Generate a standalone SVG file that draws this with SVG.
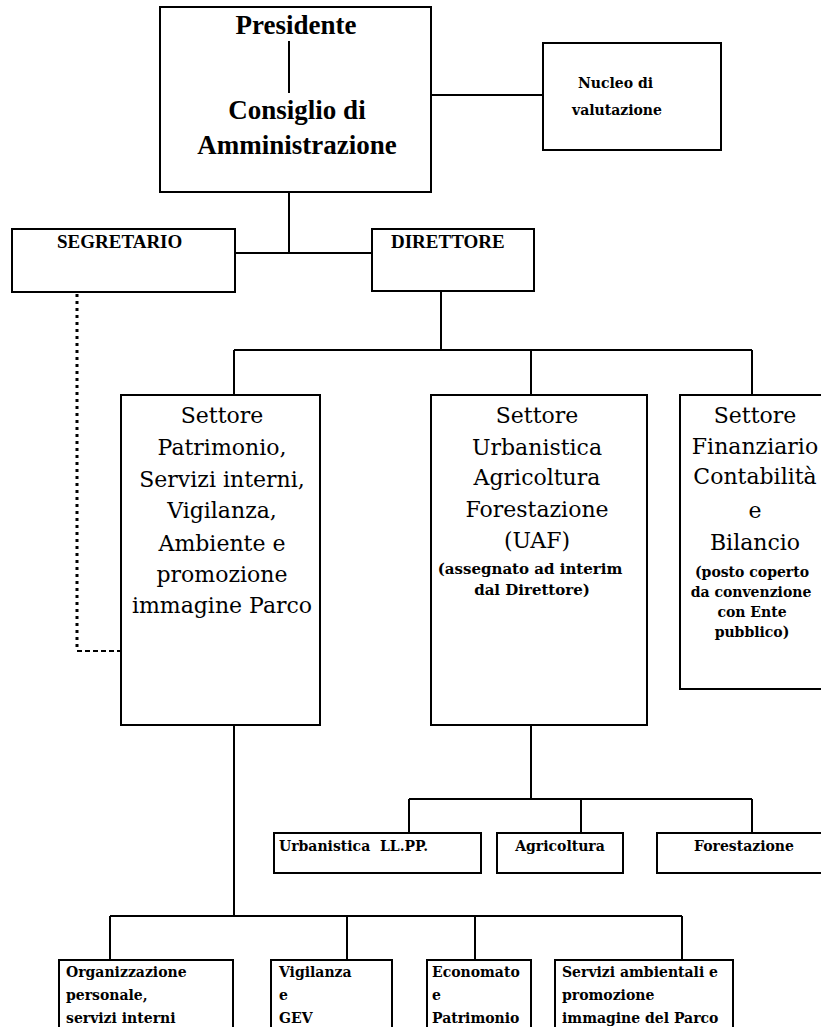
<svg xmlns="http://www.w3.org/2000/svg" width="821" height="1027" viewBox="0 0 821 1027">
<style>
.box{fill:#fff;stroke:#000;stroke-width:2}
.ln{fill:none;stroke:#000;stroke-width:2}
.big{font-family:"DejaVu Serif","Liberation Serif",serif;font-size:22px;fill:#000;text-anchor:middle}
.top{font-family:"Liberation Serif",serif;font-weight:bold;font-size:27px;fill:#000;text-anchor:middle}
.cap{font-family:"Liberation Serif",serif;font-weight:bold;font-size:19px;fill:#000}
.sm{font-family:"DejaVu Serif","Liberation Serif",serif;font-weight:bold;font-size:14px;fill:#000}
.smc{font-family:"DejaVu Serif","Liberation Serif",serif;font-weight:bold;font-size:14px;fill:#000;text-anchor:middle}
.smb{font-size:15px}
</style>
<rect width="821" height="1027" fill="#fff"/>
<g id="connectors">
  <line class="ln" x1="431" y1="95" x2="543" y2="95"/>
  <line class="ln" x1="289" y1="192" x2="289" y2="253"/>
  <line class="ln" x1="235" y1="253" x2="372" y2="253"/>
  <line fill="none" stroke="#000" stroke-width="3" stroke-dasharray="3 4" x1="77" y1="294" x2="77" y2="651"/>
  <line fill="none" stroke="#000" stroke-width="2" stroke-dasharray="5 3" x1="77" y1="651" x2="121" y2="651"/>
  <line class="ln" x1="441" y1="291" x2="441" y2="350"/>
  <line class="ln" x1="234" y1="350" x2="752" y2="350"/>
  <line class="ln" x1="234" y1="350" x2="234" y2="395"/>
  <line class="ln" x1="531" y1="350" x2="531" y2="395"/>
  <line class="ln" x1="752" y1="350" x2="752" y2="395"/>
  <line class="ln" x1="531" y1="725" x2="531" y2="799"/>
  <line class="ln" x1="409" y1="799" x2="752" y2="799"/>
  <line class="ln" x1="409" y1="799" x2="409" y2="833"/>
  <line class="ln" x1="581" y1="799" x2="581" y2="833"/>
  <line class="ln" x1="752" y1="799" x2="752" y2="833"/>
  <line class="ln" x1="234" y1="725" x2="234" y2="916"/>
  <line class="ln" x1="110" y1="916" x2="682" y2="916"/>
  <line class="ln" x1="110" y1="916" x2="110" y2="960"/>
  <line class="ln" x1="347" y1="916" x2="347" y2="960"/>
  <line class="ln" x1="475" y1="916" x2="475" y2="960"/>
  <line class="ln" x1="682" y1="916" x2="682" y2="960"/>
</g>
<g id="presidente">
  <rect class="box" x="160" y="7" width="271" height="185"/>
  <text class="top" x="296" y="34">Presidente</text>
  <line class="ln" x1="289" y1="41" x2="289" y2="93"/>
  <text class="top" x="297" y="119">Consiglio di</text>
  <text class="top" x="297" y="154">Amministrazione</text>
</g>
<g id="nucleo">
  <rect class="box" x="543" y="43" width="178" height="107"/>
  <text class="sm" x="578" y="88">Nucleo di</text>
  <text class="sm" x="572" y="115">valutazione</text>
</g>
<g id="segretario">
  <rect class="box" x="12" y="229" width="223" height="63"/>
  <text class="cap" x="57" y="248">SEGRETARIO</text>
</g>
<g id="direttore">
  <rect class="box" x="372" y="229" width="162" height="62"/>
  <text class="cap" x="391" y="248">DIRETTORE</text>
</g>
<g id="settore-patrimonio">
  <rect class="box" x="121" y="395" width="199" height="330"/>
  <text class="big" x="222" y="423">Settore</text>
  <text class="big" x="222" y="455">Patrimonio,</text>
  <text class="big" x="222" y="487">Servizi interni,</text>
  <text class="big" x="222" y="518">Vigilanza,</text>
  <text class="big" x="222" y="551">Ambiente e</text>
  <text class="big" x="222" y="582">promozione</text>
  <text class="big" x="222" y="613">immagine Parco</text>
</g>
<g id="settore-uaf">
  <rect class="box" x="431" y="395" width="216" height="330"/>
  <text class="big" x="537" y="423">Settore</text>
  <text class="big" x="537" y="455">Urbanistica</text>
  <text class="big" x="537" y="485">Agricoltura</text>
  <text class="big" x="537" y="517">Forestazione</text>
  <text class="big" x="537" y="548">(UAF)</text>
  <text class="smc smb" x="530" y="574">(assegnato ad interim</text>
  <text class="smc smb" x="532" y="595">dal Direttore)</text>
</g>
<g id="settore-finanziario">
  <rect class="box" x="680" y="395" width="160" height="294"/>
  <text class="big" x="755" y="423">Settore</text>
  <text class="big" x="755" y="454">Finanziario</text>
  <text class="big" x="755" y="484">Contabilità</text>
  <text class="big" x="755" y="518">e</text>
  <text class="big" x="755" y="550">Bilancio</text>
  <text class="smc" x="752" y="577">(posto coperto</text>
  <text class="smc" x="751" y="597">da convenzione</text>
  <text class="smc" x="752" y="617">con Ente</text>
  <text class="smc" x="752" y="637">pubblico)</text>
</g>
<g id="urbanistica">
  <rect class="box" x="274" y="833" width="207" height="40"/>
  <text class="sm" x="279" y="851" xml:space="preserve">Urbanistica  LL.PP.</text>
</g>
<g id="agricoltura">
  <rect class="box" x="497" y="833" width="126" height="40"/>
  <text class="smc" x="560" y="851">Agricoltura</text>
</g>
<g id="forestazione">
  <rect class="box" x="657" y="833" width="180" height="40"/>
  <text class="smc" x="744" y="851">Forestazione</text>
</g>
<g id="organizzazione">
  <rect class="box" x="59" y="960" width="174" height="90"/>
  <text class="sm" x="66" y="977">Organizzazione</text>
  <text class="sm" x="66" y="1000">personale,</text>
  <text class="sm" x="66" y="1023">servizi interni</text>
</g>
<g id="vigilanza">
  <rect class="box" x="271" y="960" width="121" height="90"/>
  <text class="sm" x="279" y="977">Vigilanza</text>
  <text class="sm" x="279" y="1000">e</text>
  <text class="sm" x="279" y="1023">GEV</text>
</g>
<g id="economato">
  <rect class="box" x="427" y="960" width="104" height="90"/>
  <text class="sm" x="432" y="977">Economato</text>
  <text class="sm" x="432" y="1000">e</text>
  <text class="sm" x="432" y="1023">Patrimonio</text>
</g>
<g id="servizi-ambientali">
  <rect class="box" x="555" y="960" width="178" height="90"/>
  <text class="sm" x="562" y="977">Servizi ambientali e</text>
  <text class="sm" x="562" y="1000">promozione</text>
  <text class="sm" x="562" y="1023">immagine del Parco</text>
</g>
</svg>
